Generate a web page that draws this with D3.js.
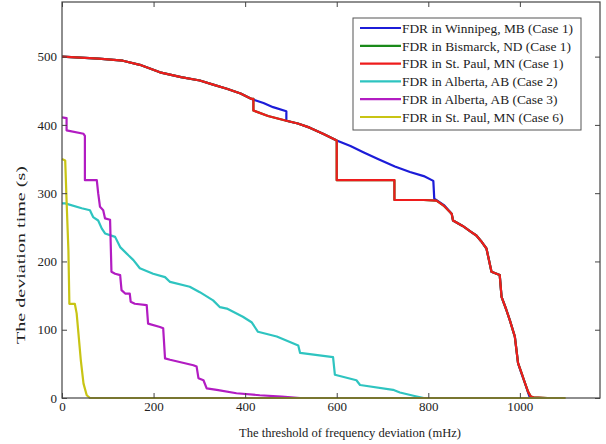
<!DOCTYPE html>
<html>
<head>
<meta charset="utf-8">
<script src="https://cdn.jsdelivr.net/npm/d3@7/dist/d3.min.js"></script>
<style>
  html, body { margin: 0; padding: 0; background: #fff; }
  svg { display: block; }
  text { font-family: "Liberation Serif", "Times New Roman", serif; fill: #222; }
</style>
</head>
<body>
<svg id="chart" width="606" height="444"></svg>
<script>
// Deviation time (s) versus frequency-deviation threshold (mHz), one trace per FDR unit/case.
const xTicks = [0, 200, 400, 600, 800, 1000];
const yTicks = [0, 100, 200, 300, 400, 500];

const seriesNames = [
  "FDR in Winnipeg, MB (Case 1)",
  "FDR in Bismarck, ND (Case 1)",
  "FDR in St. Paul, MN (Case 1)",
  "FDR in Alberta, AB (Case 2)",
  "FDR in Alberta, AB (Case 3)",
  "FDR in St. Paul, MN (Case 6)"
];
const seriesColors = ["#1c1cd8", "#1a8a1a", "#ee1c1c", "#2ec4c0", "#b21cc2", "#c8c414"];

// [threshold mHz, time s]
const winnipegCase1 = [
  [0,500],[30,499],[80,497],[133,494],[170,488],[214,477],[260,470],[301,465],[330,459],
  [360,453],[390,446],[414,438],[418,437],[440,432],[461,426],[490,420],[490,406],[515,402],
  [541,396],[570,387],[600,377],[630,369],[658,360],[690,350],[727,339],[760,331],[790,325],
  [811,318],[813,292],[835,282],[851,270],[854,260],[875,252],[894,243],[905,238],[915,230],
  [927,219],[938,185],[956,180],[960,148],[970,130],[978,114],[989,90],[996,51],[1004,35],
  [1011,22],[1018,8],[1022,0],[1030,0]
];

const stPaulCase1 = [
  [0,500],[30,499],[80,497],[133,494],[170,488],[214,477],[260,470],[301,465],[330,459],
  [360,453],[390,446],[414,438],[418,438],[418,421],[450,413],[490,406],[515,402],
  [541,396],[570,387],[600,377],[600,319],[726,319],[726,290],[790,290],[818,289],
  [835,281],[851,270],[854,260],[875,252],[894,243],[905,238],[915,230],
  [927,219],[938,185],[956,180],[960,148],[970,130],[978,114],[989,90],[996,51],[1004,36],
  [1011,22],[1018,9],[1024,2],[1030,1],[1060,0]
];

// The Bismarck trace runs along the St. Paul (Case 1) trace and sits underneath it.
const bismarckCase1 = stPaulCase1;

const albertaCase2 = [
  [0,285],[7,285],[43,278],[61,275],[68,265],[79,260],[87,248],[94,241],[116,236],[127,221],
  [145,209],[156,202],[170,190],[199,182],[225,177],[236,170],[279,163],[301,155],[330,143],
  [345,133],[360,131],[395,119],[414,111],[428,97],[469,90],[516,77],[520,66],[592,60],
  [596,34],[643,26],[651,19],[723,12],[738,8],[770,3],[790,0]
];

const albertaCase3 = [
  [0,411],[10,410],[10,392],[47,387],[50,384],[50,319],[76,319],[79,300],[83,280],[90,275],
  [94,263],[105,261],[108,185],[116,182],[127,180],[130,158],[138,153],[148,153],[150,141],
  [159,138],[185,136],[188,109],[214,104],[221,102],[225,58],[236,56],[287,48],[294,46],
  [298,29],[309,26],[316,14],[338,12],[381,7],[432,4],[480,2],[520,0]
];

const stPaulCase6 = [
  [0,350],[7,348],[10,289],[14,216],[16,143],[16,138],[28,138],[32,124],[36,94],[41,56],
  [47,21],[54,4],[61,0],[110,0],[1100,0]
];

const series = [winnipegCase1, bismarckCase1, stPaulCase1, albertaCase2, albertaCase3, stPaulCase6];

const svg = d3.select("#chart");
const plot = { left: 62, right: 600, top: 2, bottom: 398 };

const x = d3.scaleLinear().domain([0, 1175]).range([plot.left, plot.right]);
const y = d3.scaleLinear().domain([0, 580]).range([plot.bottom, plot.top]);

// traces
const line = d3.line().x(d => x(d[0])).y(d => y(d[1]));
svg.append("g")
  .selectAll("path")
  .data(series)
  .join("path")
  .attr("d", line)
  .attr("fill", "none")
  .attr("stroke", (d, i) => seriesColors[i])
  .attr("stroke-width", 2.2)
  .attr("stroke-linejoin", "round");

// axes with inward ticks on all four sides
const tickLen = 5;
const axisColor = "#444";
const fmt = d3.format("d");
function styleAxis(g) {
  g.select(".domain").remove();
  g.selectAll(".tick line").attr("stroke", axisColor);
  g.selectAll(".tick text")
    .style("font-family", '"Liberation Serif", "Times New Roman", serif')
    .style("font-size", "13px")
    .attr("fill", "#333");
}

svg.append("g")
  .attr("transform", `translate(0,${plot.bottom})`)
  .call(d3.axisBottom(x).tickValues(xTicks).tickFormat(fmt).tickSize(-tickLen).tickPadding(4))
  .call(styleAxis);

svg.append("g")
  .attr("transform", `translate(${plot.left},0)`)
  .call(d3.axisLeft(y).tickValues(yTicks).tickFormat(fmt).tickSize(-tickLen).tickPadding(5))
  .call(styleAxis);

svg.append("g")
  .attr("transform", `translate(0,${plot.top})`)
  .call(d3.axisTop(x).tickValues(xTicks).tickSize(-tickLen).tickFormat(""))
  .call(styleAxis);

svg.append("g")
  .attr("transform", `translate(${plot.right},0)`)
  .call(d3.axisRight(y).tickValues(yTicks).tickSize(-tickLen).tickFormat(""))
  .call(styleAxis);

svg.append("rect")
  .attr("x", plot.left).attr("y", plot.top)
  .attr("width", plot.right - plot.left).attr("height", plot.bottom - plot.top)
  .attr("fill", "none").attr("stroke", axisColor).attr("stroke-width", 1.2);

// axis titles
svg.append("text")
  .attr("x", 350)
  .attr("y", 437)
  .attr("text-anchor", "middle")
  .attr("textLength", 222)
  .attr("lengthAdjust", "spacingAndGlyphs")
  .style("font-size", "13px")
  .text("The threshold of frequency deviation (mHz)");

svg.append("text")
  .attr("transform", "translate(25,255) rotate(-90)")
  .attr("text-anchor", "middle")
  .attr("textLength", 178)
  .attr("lengthAdjust", "spacingAndGlyphs")
  .style("font-size", "12.5px")
  .text("The deviation time (s)");

// legend
const legend = svg.append("g");
legend.append("rect")
  .attr("x", 353).attr("y", 18)
  .attr("width", 228).attr("height", 112)
  .attr("fill", "#fff").attr("stroke", "#555").attr("stroke-width", 1);

const rows = legend.selectAll("g.row")
  .data(seriesNames)
  .join("g")
  .attr("class", "row")
  .attr("transform", (d, i) => `translate(0,${28 + i * 17.8})`);

rows.append("line")
  .attr("x1", 360).attr("x2", 401)
  .attr("stroke", (d, i) => seriesColors[i])
  .attr("stroke-width", 2.2);

rows.append("text")
  .attr("x", 402)
  .attr("dy", "0.35em")
  .style("font-size", "13.4px")
  .text(d => d);
</script>
</body>
</html>
